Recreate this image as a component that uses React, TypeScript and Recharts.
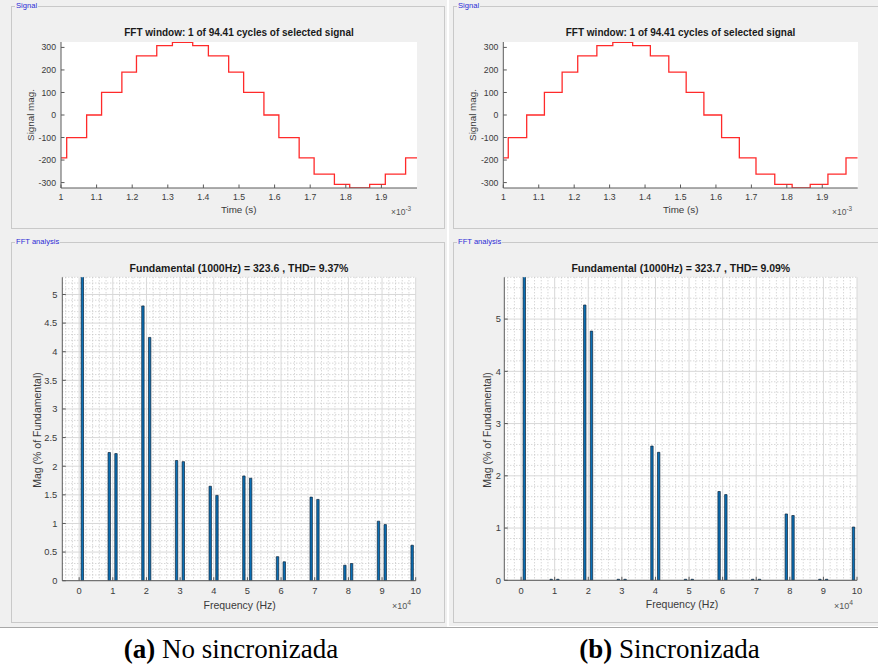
import React from 'react'
import { LineChart, Line, BarChart, Bar, XAxis, YAxis, CartesianGrid } from 'recharts'

// step signal, (a) no sincronizada: time (ms) where each level starts
const stepTimesA = [1.0, 1.016, 1.072, 1.114, 1.171, 1.212, 1.269, 1.313, 1.37, 1.414, 1.471, 1.513, 1.57, 1.612, 1.669, 1.711, 1.768, 1.811, 1.867, 1.911, 1.968, 2.0]
// (b) sincronizada
const stepTimesB = [1.0, 1.014, 1.066, 1.116, 1.166, 1.21, 1.264, 1.309, 1.365, 1.415, 1.467, 1.516, 1.566, 1.616, 1.666, 1.713, 1.766, 1.815, 1.866, 1.916, 1.967, 2.0]
const stepLevels = [-190, -100, 0, 100, 190, 262, 308, 323, 308, 262, 190, 100, 0, -100, -190, -262, -308, -323, -308, -262, -190, -190]

const timeTicks = [1, 1.1, 1.2, 1.3, 1.4, 1.5, 1.6, 1.7, 1.8, 1.9]
const signalTicks = [-300, -200, -100, 0, 100, 200, 300]

// harmonic spectrum, frequency in 1e4 Hz
const harmonicFreq = [0.1, 0.9, 1.1, 1.9, 2.1, 2.9, 3.1, 3.9, 4.1, 4.9, 5.1, 5.9, 6.1, 6.9, 7.1, 7.9, 8.1, 8.9, 9.1, 9.9]
const magA = [100, 2.24, 2.22, 4.8, 4.25, 2.1, 2.08, 1.65, 1.49, 1.83, 1.79, 0.42, 0.33, 1.46, 1.42, 0.27, 0.3, 1.04, 0.98, 0.62]
const magB = [100, 0.02, 0.02, 5.27, 4.77, 0.02, 0.02, 2.57, 2.45, 0.02, 0.02, 1.7, 1.64, 0.02, 0.02, 1.27, 1.24, 0.02, 0.02, 1.02]

const freqTicks = [0, 1, 2, 3, 4, 5, 6, 7, 8, 9, 10]
const magTicksA = [0, 0.5, 1, 1.5, 2, 2.5, 3, 3.5, 4, 4.5, 5]
const magTicksB = [0, 1, 2, 3, 4, 5]

// minor grid positions (MATLAB minor grid)
const minorFreq = Array.from({ length: 52 }, (_, i) => -0.4 + i * 0.2).filter((f) => Math.abs(f - Math.round(f)) > 0.01)
const minorMagA = Array.from({ length: 53 }, (_, i) => (i + 1) * 0.1).filter((m) => Math.abs(m * 2 - Math.round(m * 2)) > 0.01)
const minorMagB = Array.from({ length: 29 }, (_, i) => (i + 1) * 0.2).filter((m) => Math.abs(m - Math.round(m)) > 0.01)

const SANS = '"Liberation Sans", Arial, sans-serif'
const AXIS = '#5a5a5a'
const TXT = '#3a3a3a'
const PANEL = '#f0f0f0'

type Plot = { x0: number; x1: number; y0: number; y1: number }

function Txt({ x, y, children, size, bold, rotate, color }: any) {
  return (
    <div
      style={{
        position: 'absolute',
        left: x,
        top: y,
        transform: `translate(-50%, -50%)${rotate ? ' rotate(-90deg)' : ''}`,
        whiteSpace: 'nowrap',
        fontFamily: SANS,
        fontSize: size,
        fontWeight: bold ? 'bold' : 'normal',
        color: color || TXT,
        lineHeight: 1,
      }}
    >
      {children}
    </div>
  )
}

function Multiplier({ x, y, exp, size }: any) {
  return (
    <div style={{ position: 'absolute', left: x, top: y, fontFamily: SANS, fontSize: size, color: '#555', lineHeight: 1, whiteSpace: 'nowrap' }}>
      ×10<span style={{ fontSize: size * 0.75, position: 'relative', top: -size * 0.45 }}>{exp}</span>
    </div>
  )
}

function Frame({ left, top, width, height, label }: any) {
  return (
    <>
      <div style={{ position: 'absolute', left, top, width, height, border: '1px solid #c9c9c9', boxSizing: 'border-box' }} />
      <div
        style={{
          position: 'absolute',
          left: left + 4,
          top: top - 5,
          padding: '0 1px',
          background: PANEL,
          fontFamily: SANS,
          fontSize: 7.6,
          color: '#2b2bd6',
          lineHeight: '10px',
        }}
      >
        {label}
      </div>
    </>
  )
}

function SignalChart({ left, top, width, height, plot, times }: { left: number; top: number; width: number; height: number; plot: Plot; times: number[] }) {
  const data = times.map((t, i) => ({ t, v: stepLevels[i] }))
  const tick = { fill: TXT, fontSize: 8.7, fontFamily: SANS }
  return (
    <div style={{ position: 'absolute', left, top, width, height }}>
      <div style={{ position: 'absolute', left: plot.x0, top: plot.y0, width: plot.x1 - plot.x0, height: plot.y1 - plot.y0, background: '#fff' }} />
      <div style={{ position: 'absolute', left: 0, top: 0 }}>
        <LineChart
          width={width}
          height={height}
          data={data}
          margin={{ top: plot.y0, left: plot.x0 - 40, right: width - plot.x1, bottom: height - plot.y1 - 20 }}
        >
          <XAxis xAxisId="b" dataKey="t" type="number" domain={[1, 2]} allowDataOverflow ticks={timeTicks} interval={0} height={20} tickSize={-3.5} tickMargin={9} stroke={AXIS} tick={tick} />
          <XAxis xAxisId="t" orientation="top" type="number" domain={[1, 2]} allowDataOverflow ticks={timeTicks} interval={0} height={0} tick={false} tickSize={-3.5} stroke={AXIS} />
          <YAxis yAxisId="l" type="number" domain={[-324, 324]} allowDataOverflow ticks={signalTicks} interval={0} width={40} tickSize={-3.5} tickMargin={8.5} stroke={AXIS} tick={tick} />
          <YAxis yAxisId="r" orientation="right" type="number" domain={[-324, 324]} allowDataOverflow ticks={signalTicks} interval={0} width={0} tick={false} tickSize={-3.5} stroke={AXIS} />
          <Line xAxisId="b" yAxisId="l" type="stepAfter" dataKey="v" stroke="#ff2a2a" strokeWidth={1.3} dot={false} isAnimationActive={false} />
        </LineChart>
      </div>
    </div>
  )
}

function FftChart({ left, top, width, height, plot, mags, magMax, magTicks, minorMag, yTickMargin }: any) {
  const data = harmonicFreq.map((f, i) => ({ f, mag: mags[i] }))
  const tick = { fill: TXT, fontSize: 9.3, fontFamily: SANS }
  return (
    <div style={{ position: 'absolute', left, top, width, height }}>
      <div style={{ position: 'absolute', left: plot.x0, top: plot.y0, width: plot.x1 - plot.x0, height: plot.y1 - plot.y0, background: '#fff' }} />
      <div style={{ position: 'absolute', left: 0, top: 0 }}>
        <BarChart
          width={width}
          height={height}
          data={data}
          barSize={2.4}
          margin={{ top: plot.y0, left: plot.x0 - 40, right: width - plot.x1, bottom: height - plot.y1 - 20 }}
        >
          <CartesianGrid xAxisId="b" yAxisId="l" verticalValues={minorFreq} horizontalValues={minorMag} stroke="#c6c6c6" strokeDasharray="1 2" />
          <CartesianGrid xAxisId="b" yAxisId="l" verticalValues={freqTicks} horizontalValues={magTicks} stroke="#d8d8d8" />
          <XAxis xAxisId="b" dataKey="f" type="number" domain={[-0.5, 10]} allowDataOverflow ticks={freqTicks} interval={0} height={20} tickSize={-3.5} tickMargin={10.5} stroke={AXIS} tick={tick} />
          <XAxis xAxisId="t" orientation="top" type="number" domain={[-0.5, 10]} allowDataOverflow ticks={freqTicks} interval={0} height={0} tick={false} tickSize={-3.5} stroke={AXIS} />
          <YAxis yAxisId="l" type="number" domain={[0, magMax]} allowDataOverflow ticks={magTicks} interval={0} width={40} tickSize={-3.5} tickMargin={yTickMargin} stroke={AXIS} tick={tick} />
          <YAxis yAxisId="r" orientation="right" type="number" domain={[0, magMax]} allowDataOverflow ticks={magTicks} interval={0} width={0} tick={false} tickSize={-3.5} stroke={AXIS} />
          <Bar xAxisId="b" yAxisId="l" dataKey="mag" fill="#0a6fb5" stroke="#0f2236" strokeWidth={0.7} isAnimationActive={false} />
        </BarChart>
      </div>
    </div>
  )
}

export default function App() {
  return (
    <div style={{ position: 'absolute', left: 0, top: 0, width: 878, height: 667, background: '#fff', overflow: 'hidden' }}>
      {/* screenshot backgrounds */}
      <div style={{ position: 'absolute', left: 0, top: 0, width: 447, height: 627, background: PANEL }} />
      <div style={{ position: 'absolute', left: 449, top: 0, width: 429, height: 626, background: PANEL }} />
      <div style={{ position: 'absolute', left: 0, top: 627, width: 878, height: 1, background: '#a8a8a8' }} />

      <Frame left={11} top={6} width={434} height={223} label="Signal" />
      <Frame left={11} top={242} width={434} height={381} label="FFT analysis" />
      <Frame left={453} top={6} width={430} height={223} label="Signal" />
      <Frame left={453} top={242} width={430} height={381} label="FFT analysis" />

      {/* (a) */}
      <SignalChart left={0} top={0} width={447} height={230} plot={{ x0: 61, x1: 417, y0: 42, y1: 188 }} times={stepTimesA} />
      <Txt x={239} y={33} size={10} bold color="#1a1a1a">FFT window: 1 of 94.41 cycles of selected signal</Txt>
      <Txt x={238.7} y={210} size={9.8}>Time (s)</Txt>
      <Txt x={30.7} y={115} size={9.8} rotate>Signal mag.</Txt>
      <Multiplier x={391} y={208} exp="-3" size={8.5} />

      <FftChart left={0} top={235} width={447} height={392} plot={{ x0: 62.3, x1: 415.7, y0: 42.3, y1: 345.7 }} mags={magA} magMax={5.3} magTicks={magTicksA} minorMag={minorMagA} yTickMargin={8.5} />
      <Txt x={239} y={268.3} size={10.5} bold color="#1a1a1a">Fundamental (1000Hz) = 323.6 , THD= 9.37%</Txt>
      <Txt x={239.7} y={605} size={10.5}>Frequency (Hz)</Txt>
      <Txt x={36.7} y={430} size={10.5} rotate>Mag (% of Fundamental)</Txt>
      <Multiplier x={392} y={602} exp="4" size={9} />

      {/* (b) */}
      <SignalChart left={449} top={0} width={429} height={230} plot={{ x0: 54.3, x1: 408.7, y0: 42, y1: 188 }} times={stepTimesB} />
      <Txt x={680.5} y={33} size={10} bold color="#1a1a1a">FFT window: 1 of 94.41 cycles of selected signal</Txt>
      <Txt x={680.7} y={210} size={9.8}>Time (s)</Txt>
      <Txt x={473.3} y={115} size={9.8} rotate>Signal mag.</Txt>
      <Multiplier x={832} y={208} exp="-3" size={8.5} />

      <FftChart left={449} top={235} width={429} height={392} plot={{ x0: 55.3, x1: 408, y0: 42.3, y1: 345.3 }} mags={magB} magMax={5.8} magTicks={magTicksB} minorMag={minorMagB} yTickMargin={7} />
      <Txt x={680.8} y={268.3} size={10.5} bold color="#1a1a1a">Fundamental (1000Hz) = 323.7 , THD= 9.09%</Txt>
      <Txt x={682} y={604.3} size={10.5}>Frequency (Hz)</Txt>
      <Txt x={487.3} y={430} size={10.5} rotate>Mag (% of Fundamental)</Txt>
      <Multiplier x={834} y={602} exp="4" size={9} />

      {/* captions */}
      <div style={{ position: 'absolute', left: 231, top: 649, transform: 'translate(-50%, -50%)', fontFamily: '"Liberation Serif", "Times New Roman", serif', fontSize: 27, lineHeight: 1, whiteSpace: 'nowrap', color: '#000' }}>
        <b>(a)</b> No sincronizada
      </div>
      <div style={{ position: 'absolute', left: 669.5, top: 649, transform: 'translate(-50%, -50%)', fontFamily: '"Liberation Serif", "Times New Roman", serif', fontSize: 27, lineHeight: 1, whiteSpace: 'nowrap', color: '#000' }}>
        <b>(b)</b> Sincronizada
      </div>
    </div>
  )
}
